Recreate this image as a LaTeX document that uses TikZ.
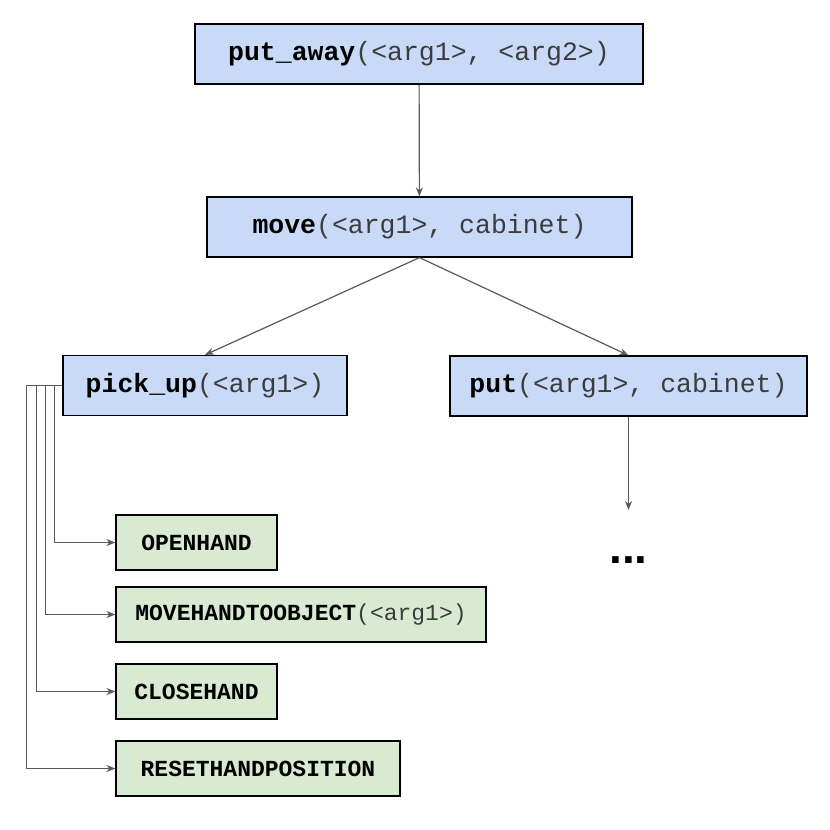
\documentclass[tikz,border=0pt]{standalone}
\usepackage{fontspec}
\setmainfont{Liberation Sans}
\setmonofont{Liberation Mono}
\usepackage{tikz}
\usetikzlibrary{arrows.meta,positioning}
\usepackage{xcolor}
\definecolor{taskblue}{RGB}{201,218,248}
\definecolor{primgreen}{RGB}{217,234,211}
\definecolor{linkgray}{RGB}{89,89,89}
\definecolor{arggray}{RGB}{60,60,60}
\tikzstyle{arrow} = [line width=1.2bp,-{Stealth[length=9bp,width=7bp]},color=linkgray]
\tikzstyle{task} = [rectangle, minimum height=60bp, inner sep=0pt, text centered, draw=black, fill=taskblue, line width=1.2bp, font=\ttfamily\fontsize{26.5bp}{30bp}\selectfont]
\tikzstyle{prim} = [rectangle, minimum height=55bp, inner sep=0pt, text centered, draw=black, fill=primgreen, line width=1.2bp, font=\ttfamily\fontsize{23bp}{27bp}\selectfont]
\newcommand{\args}[1]{\textcolor{arggray}{#1}}

\begin{document}
\begin{tikzpicture}[x=1bp, y=-1bp]
\useasboundingbox (0,0) rectangle (830,830);

% Task hierarchy
\node (putaway) [task, minimum width=448bp] at (419,54) {\textbf{put\_away}\args{(<arg1>, <arg2>)}};
\node (move) [task, minimum width=425bp] at (419.5,227) {\textbf{move}\args{(<arg1>, cabinet)}};
\node (pickup) [task, minimum width=284bp] at (205,385.5) {\textbf{pick\_up}\args{(<arg1>)}};
\node (put) [task, minimum width=357bp] at (628.5,386) {\textbf{put}\args{(<arg1>, cabinet)}};

\draw[arrow] (putaway) -- (move);
\draw[arrow] (move.south) -- (pickup.north);
\draw[arrow] (move.south) -- (put.north);

% Remaining steps of put
\coordinate (putend) at (628.5,510);
\node (more) [font=\bfseries\fontsize{46bp}{50bp}\selectfont] at (628.5,560) {...};
\draw[arrow] (put) -- (putend);

% Primitive actions
\node (openhand) [prim, minimum width=161bp] at (196.5,542.5) {\textbf{OPENHAND}};
\node (movehand) [prim, minimum width=370bp] at (301,614.5) {\textbf{MOVEHANDTOOBJECT}\args{(<arg1>)}};
\node (closehand) [prim, minimum width=161bp] at (196.5,691.5) {\textbf{CLOSEHAND}};
\node (resethand) [prim, minimum width=284bp] at (258,768.5) {\textbf{RESETHANDPOSITION}};

\draw[arrow] (pickup.west) -- ++(-8,0) |- (openhand);
\draw[arrow] (pickup.west) -- ++(-17,0) |- (movehand);
\draw[arrow] (pickup.west) -- ++(-26,0) |- (closehand);
\draw[arrow] (pickup.west) -- ++(-36,0) |- (resethand);
\end{tikzpicture}
\end{document}
